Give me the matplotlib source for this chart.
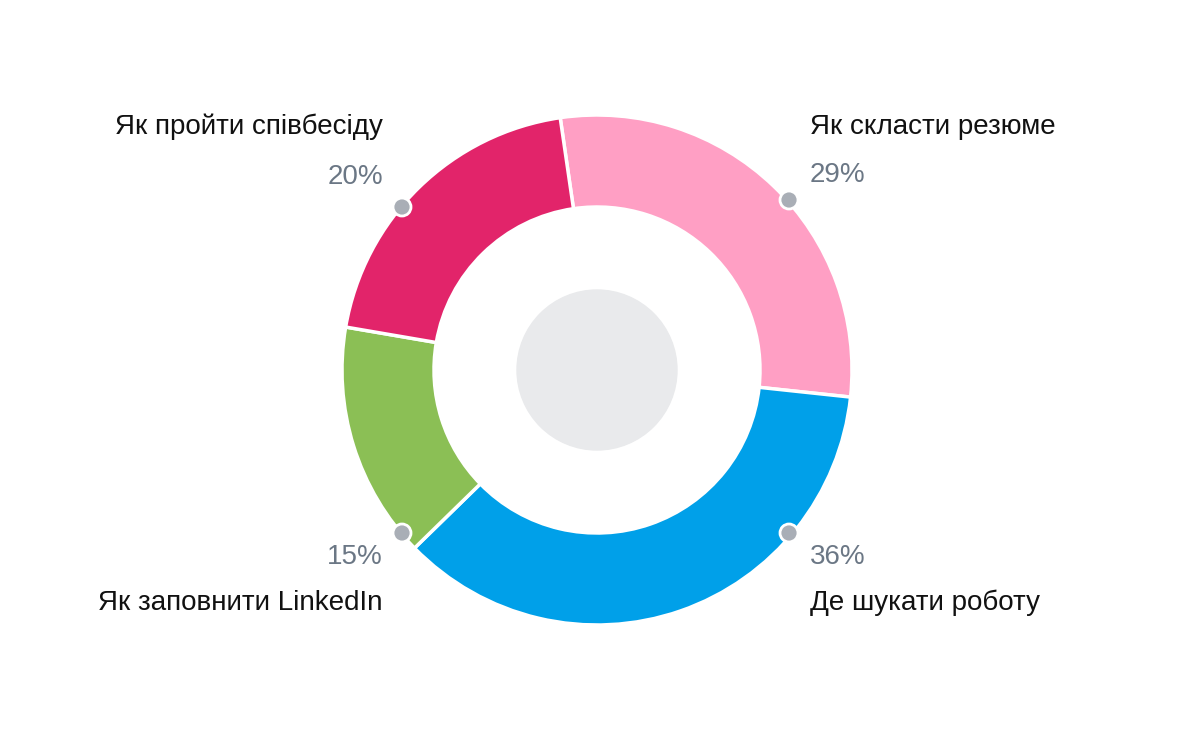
import matplotlib
matplotlib.use("Agg")
import matplotlib.pyplot as plt
from matplotlib.patches import Circle

labels = ["Як скласти резюме", "Де шукати роботу", "Як заповнити LinkedIn", "Як пройти співбесіду"]
values = [29, 36, 15, 20]
colors = ["#ff9fc4", "#00a0e9", "#8bbf55", "#e2246a"]

W, H = 1200, 740
fig = plt.figure(figsize=(12, 7.4), dpi=100)
ax = fig.add_axes([0, 0, 1, 1])
ax.set_xlim(0, W); ax.set_ylim(0, H); ax.set_aspect("equal"); ax.axis("off")

cx, cy, R = 597, H - 370, 255
ax.pie(values, colors=colors, startangle=98.3, counterclock=False, center=(cx, cy), radius=R,
       wedgeprops=dict(width=R - 163, edgecolor="white", linewidth=2.5), frame=True)
ax.set_xlim(0, W); ax.set_ylim(0, H); ax.axis("off")
ax.add_patch(Circle((cx, cy), 80, color="#e9eaec", zorder=3))

# label anchors (pixel coords): dot, pct text, label text, alignment
spec = [
    ((789, 200), (810, 175), (810, 127), "left"),
    ((789, 533), (810, 557), (810, 603), "left"),
    ((402, 533), (383, 557), (383, 603), "right"),
    ((402, 207), (383, 177), (383, 127), "right"),
]
for (lab, v, (d, p, t, ha)) in zip(labels, values, spec):
    ax.add_patch(Circle((d[0], H - d[1]), 9, facecolor="#a9aeb6", edgecolor="white", lw=2, zorder=5))
    ax.text(p[0], H - p[1], f"{v}%", ha=ha, va="center", fontsize=20, color="#6b7785", family="Liberation Sans")
    ax.text(t[0], H - t[1], lab, ha=ha, va="center", fontsize=20, color="#111111", family="Liberation Sans")

fig.savefig("out.png", dpi=100, facecolor="white")
